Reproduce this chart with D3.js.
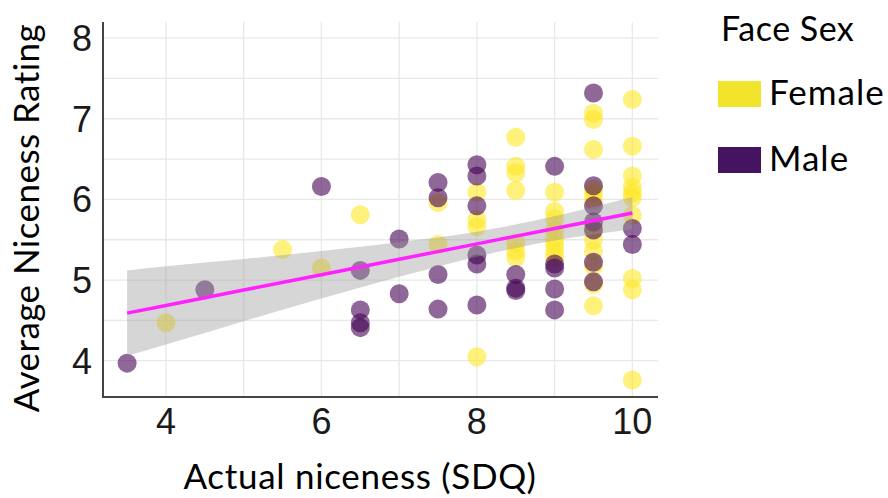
<!DOCTYPE html>
<html><head><meta charset="utf-8">
<script src="https://cdn.jsdelivr.net/npm/d3@7"></script>
<style>html,body{margin:0;padding:0;background:#fff;}svg{display:block;}</style>
</head><body>
<svg id="chart" width="888" height="498"></svg>
<script>
// ---- data ----
const femaleSdq = [4, 5.5, 6, 6.5, 7.5, 7.5, 8, 8, 8, 8,
  8.5, 8.5, 8.5, 8.5, 8.5, 8.5, 8.5,
  9, 9, 9, 9, 9, 9, 9, 9,
  9.5, 9.5, 9.5, 9.5, 9.5, 9.5, 9.5, 9.5, 9.5, 9.5, 9.5, 9.5,
  10, 10, 10, 10, 10, 10, 10, 10, 10, 10];
const femaleRating = [4.47, 5.38, 5.15, 5.81, 5.96, 5.44, 6.09, 5.75, 5.66, 4.05,
  6.77, 6.41, 6.33, 6.11, 5.46, 5.36, 5.28,
  6.09, 5.85, 5.76, 5.62, 5.52, 5.44, 5.36, 5.28,
  7.07, 6.99, 6.62, 6.13, 6.07, 5.99, 5.65, 5.50, 5.36, 5.17, 4.95, 4.68,
  7.24, 6.66, 6.29, 6.15, 6.08, 6.02, 5.80, 5.02, 4.88, 3.76];
const maleSdq = [3.5, 4.5, 6, 6.5, 6.5, 6.5, 6.5, 7, 7, 7.5, 7.5, 7.5, 7.5,
  8, 8, 8, 8, 8, 8, 8.5, 8.5, 8.5, 9, 9, 9, 9, 9,
  9.5, 9.5, 9.5, 9.5, 9.5, 9.5, 9.5, 10, 10];
const maleRating = [3.97, 4.88, 6.16, 5.12, 4.63, 4.47, 4.41, 5.51, 4.83, 6.21, 6.02, 5.07, 4.64,
  6.43, 6.29, 5.92, 5.31, 5.20, 4.69, 5.07, 4.90, 4.87, 6.41, 5.20, 5.15, 4.89, 4.63,
  7.32, 6.17, 5.92, 5.72, 5.62, 5.22, 4.98, 5.64, 5.44];
// fitted line and confidence band
const fitX    = [3.5, 4, 5, 6, 7, 8, 9, 10];
const fitY    = [4.59, 4.685, 4.876, 5.067, 5.258, 5.449, 5.640, 5.831];
const ciLow   = [4.06, 4.20, 4.49, 4.77, 5.04, 5.29, 5.49, 5.63];
const ciHigh  = [5.12, 5.17, 5.26, 5.36, 5.47, 5.60, 5.79, 6.03];
const xTicks = [4, 6, 8, 10];
const yTicks = [4, 5, 6, 7, 8];
const xGrid = [4, 5, 6, 7, 8, 9, 10];
const yGrid = [4, 4.5, 5, 5.5, 6, 6.5, 7, 7.5, 8];
const groups = ["Female", "Male"];
const groupColors = ["#FDE725", "#440154"];
const legendColors = ["#F2E32B", "#45135F"];

// ---- drawing ----
const svg = d3.select("#chart");
const x = d3.scaleLinear().domain([3.19, 10.33]).range([103, 658]);
const y = d3.scaleLinear().domain([3.55, 8.2]).range([397, 22]);
const color = d3.scaleOrdinal().domain(groups).range(groupColors);

const grid = svg.append("g");
grid.selectAll("line.gx").data(xGrid).join("line")
  .attr("x1", d => x(d)).attr("x2", d => x(d))
  .attr("y1", y.range()[1]).attr("y2", y.range()[0])
  .attr("stroke", "#e8e8e8").attr("stroke-width", 1.3);
grid.selectAll("line.gy").data(yGrid).join("line")
  .attr("y1", d => y(d)).attr("y2", d => y(d))
  .attr("x1", x.range()[0]).attr("x2", x.range()[1])
  .attr("stroke", "#e8e8e8").attr("stroke-width", 1.3);

const pts = [];
femaleSdq.forEach((v, i) => pts.push({g: "Female", x: v, y: femaleRating[i]}));
maleSdq.forEach((v, i) => pts.push({g: "Male", x: v, y: maleRating[i]}));
svg.append("g").selectAll("circle").data(pts).join("circle")
  .attr("cx", d => x(d.x)).attr("cy", d => y(d.y)).attr("r", 9.5)
  .attr("fill", d => color(d.g)).attr("fill-opacity", 0.6);

const band = fitX.map((v, i) => ({x: v, lo: ciLow[i], hi: ciHigh[i], f: fitY[i]}));
svg.append("path").datum(band)
  .attr("d", d3.area().x(d => x(d.x)).y0(d => y(d.lo)).y1(d => y(d.hi)).curve(d3.curveMonotoneX))
  .attr("fill", "#999999").attr("fill-opacity", 0.4);
svg.append("path").datum(band)
  .attr("d", d3.line().x(d => x(d.x)).y(d => y(d.f)))
  .attr("fill", "none").attr("stroke", "#FF22FF").attr("stroke-width", 3.5);

// axes lines
svg.append("line").attr("x1", x.range()[0]).attr("x2", x.range()[0])
  .attr("y1", y.range()[1]).attr("y2", y.range()[0] + 1)
  .attr("stroke", "#444").attr("stroke-width", 2);
svg.append("line").attr("x1", x.range()[0] - 1).attr("x2", x.range()[1])
  .attr("y1", y.range()[0]).attr("y2", y.range()[0])
  .attr("stroke", "#444").attr("stroke-width", 2);

// tick labels
const tickFont = "'Liberation Sans', Arial, sans-serif";
svg.append("g").selectAll("text").data(yTicks).join("text")
  .attr("x", 92).attr("y", d => y(d)).attr("dy", "0.36em")
  .attr("text-anchor", "end")
  .style("font-family", tickFont).style("font-size", "36px")
  .attr("fill", "#1a1a1a").text(d => d);
svg.append("g").selectAll("text").data(xTicks).join("text")
  .attr("x", d => x(d)).attr("y", 434)
  .attr("text-anchor", "middle")
  .style("font-family", tickFont).style("font-size", "36px")
  .attr("fill", "#1a1a1a").text(d => d);

// axis titles
const titleFont = "Lato, 'Open Sans', sans-serif";
svg.append("text").attr("x", 360).attr("y", 489).attr("text-anchor", "middle")
  .style("font-family", titleFont).style("font-size", "35px").style("letter-spacing", "0.7px")
  .attr("fill", "#000").text("Actual niceness (SDQ)");
svg.append("text").attr("transform", "translate(39,218) rotate(-90)").attr("text-anchor", "middle")
  .style("font-family", titleFont).style("font-size", "35px").style("letter-spacing", "0.45px")
  .attr("fill", "#000").text("Average Niceness Rating");

// legend
const leg = svg.append("g");
leg.append("text").attr("x", 721).attr("y", 41)
  .style("font-family", titleFont).style("font-size", "34px").style("letter-spacing", "0.5px")
  .attr("fill", "#000").text("Face Sex");
const items = leg.selectAll("g.item").data(groups).join("g")
  .attr("transform", (d, i) => `translate(718, ${81 + i * 66})`);
items.append("rect").attr("width", 43).attr("height", 26)
  .attr("fill", (d, i) => legendColors[i]);
items.append("text").attr("x", 51).attr("y", 24)
  .style("font-family", titleFont).style("font-size", "35px").style("letter-spacing", "1px")
  .attr("fill", "#000").text(d => d);
</script>
</body></html>
